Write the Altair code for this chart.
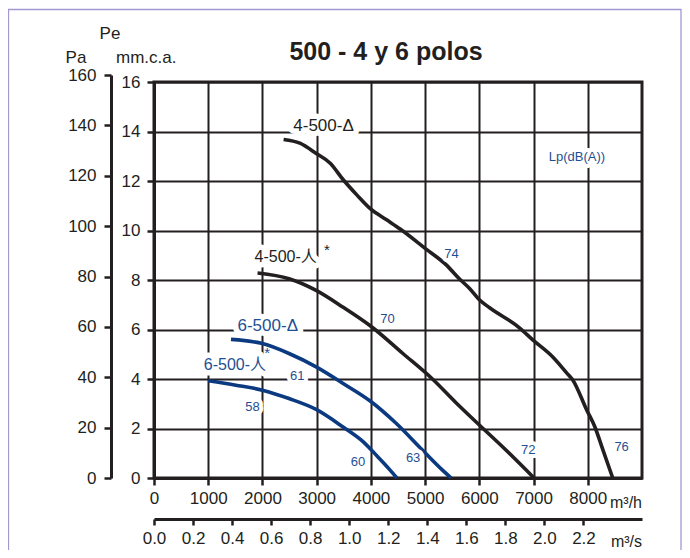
import altair as alt
import pandas as pd

# ---------------- data (flow m3/h, pressure mm.c.a.) ----------------
q_4d = [2390, 2690, 3000, 3250, 3490, 3740, 4000, 4290, 4540, 5000, 5390, 5630, 5820,
        6000, 6190, 6740, 6980, 7350, 7610, 7720, 7980, 8130, 8260, 8460]
p_4d = [13.68, 13.53, 13.10, 12.72, 12.05, 11.44, 10.86, 10.43, 10.06, 9.28, 8.61, 8.05, 7.66,
        7.20, 6.88, 6.07, 5.59, 4.90, 4.25, 3.97, 2.75, 2.07, 1.26, 0.0]
q_4y = [1910, 2490, 2990, 3480, 4000, 4590, 5140, 5570, 6000, 6490, 7010]
p_4y = [8.28, 8.05, 7.58, 6.91, 6.13, 5.03, 3.99, 3.04, 2.14, 1.13, 0.0]
q_6d = [1420, 2000, 2490, 2990, 3480, 4000, 4460, 4950, 5320, 5480]
p_6d = [5.60, 5.43, 5.03, 4.49, 3.83, 3.09, 2.22, 1.13, 0.32, 0.0]
q_6y = [1000, 1510, 2000, 2490, 2990, 3480, 3860, 4130, 4350, 4480]
p_6y = [3.93, 3.75, 3.55, 3.21, 2.77, 2.07, 1.46, 0.85, 0.33, 0.0]

series_names = ["4-500-D", "4-500-Y", "6-500-D", "6-500-Y"]
series_q = [q_4d, q_4y, q_6d, q_6y]
series_p = [p_4d, p_4y, p_6d, p_6y]

# delta labels (centred) and star labels (right end of text)
delta_labels = ["4-500-Δ", "6-500-Δ"]
delta_q = [3127, 2098]
delta_p = [14.21, 6.14]
delta_kind = ["k", "b"]
star_labels = ["4-500-人", "6-500-人"]
star_label_q = [3002, 2066]
star_label_p = [8.92, 4.57]
star_kind = ["k", "b"]
star_q = [3190, 2085]
star_p = [9.22, 5.05]

noise_labels = ["74", "70", "61", "58", "60", "63", "72", "76", "Lp(dB(A))"]
noise_q = [5487, 4306, 2642, 1815, 3764, 4779, 6900, 8624, 7799]
noise_p = [9.04, 6.41, 4.14, 2.88, 0.66, 0.80, 1.13, 1.24, 12.98]

x_ticks_h = [0, 1000, 2000, 3000, 4000, 5000, 6000, 7000, 8000]
x_ticks_s = [0.0, 0.2, 0.4, 0.6, 0.8, 1.0, 1.2, 1.4, 1.6, 1.8, 2.0, 2.2]
y_ticks_mm = [0, 2, 4, 6, 8, 10, 12, 14, 16]
y_ticks_pa = [0, 20, 40, 60, 80, 100, 120, 140, 160]

# ---------------- style ----------------
INK = "#231f20"
BLUE_TXT = "#1f4f93"
BLUE_LINE = "#0b3a80"
FONT = "Liberation Sans Narrow, Arial Narrow, Liberation Sans, Arial, Noto Sans CJK SC, sans-serif"
W, H = 488, 396
LBL = 17


def col(k):
    return INK if k == "k" else BLUE_TXT


rows = []
for name, qs, ps in zip(series_names, series_q, series_p):
    for q, p in zip(qs, ps):
        rows.append({"serie": name, "q": q, "p": p})
df = pd.DataFrame(rows)

delta_df = pd.DataFrame({"t": delta_labels, "q": delta_q, "p": delta_p,
                         "c": [col(k) for k in delta_kind]})
starlab_df = pd.DataFrame({"t": star_labels, "q": star_label_q, "p": star_label_p,
                           "c": [col(k) for k in star_kind]})
star_df = pd.DataFrame({"t": ["*"] * len(star_q), "q": star_q, "p": star_p,
                        "c": [col(k) for k in star_kind]})
num_df = pd.DataFrame({"t": noise_labels, "q": noise_q, "p": noise_p,
                       "c": [BLUE_TXT] * len(noise_labels)})

common_axis = dict(domainColor=INK, domainWidth=3, tickColor=INK, tickWidth=2.5,
                   labelFont=FONT, labelFontSize=LBL, labelColor=INK, title=None)

x_main = alt.X("q:Q", scale=alt.Scale(domain=[0, 9000], nice=False),
               axis=alt.Axis(values=x_ticks_h, format="d", grid=True, gridColor=INK,
                             gridWidth=2, gridOpacity=1, tickSize=7, labelPadding=5,
                             labelFlush=False, **common_axis))
y_main = alt.Y("p:Q", scale=alt.Scale(domain=[0, 16], nice=False),
               axis=alt.Axis(values=y_ticks_mm, format="d", grid=True, gridColor=INK,
                             gridWidth=2, gridOpacity=1, tickSize=7, labelPadding=7,
                             labelFlush=False, **common_axis))

curves = alt.Chart(df).mark_line(strokeWidth=3.6, interpolate="monotone").encode(
    x=x_main, y=y_main,
    color=alt.Color("serie:N", scale=alt.Scale(domain=series_names,
                                               range=[INK, INK, BLUE_LINE, BLUE_LINE]),
                    legend=None),
)


def halo_and_text(data, size, align="center", halo_w=11):
    base = alt.Chart(data)
    halo = base.mark_text(font=FONT, fontSize=size, stroke="white", strokeWidth=halo_w,
                          strokeJoin="round", fill="white", align=align).encode(
        x=x_main, y=y_main, text="t:N")
    txt = base.mark_text(font=FONT, fontSize=size, align=align).encode(
        x=x_main, y=y_main, text="t:N", color=alt.Color("c:N", scale=None))
    return halo, txt


d_halo, d_txt = halo_and_text(delta_df, LBL, "center")
s_halo, s_txt = halo_and_text(starlab_df, LBL - 1, "right")
n_halo, n_txt = halo_and_text(num_df, 13, "center", halo_w=8)
star_txt = alt.Chart(star_df).mark_text(font=FONT, fontSize=15).encode(
    x=x_main, y=y_main, text="t:N", color=alt.Color("c:N", scale=None))

one = alt.Data(values=[{}])
frame = alt.Chart(one).mark_rect(fillOpacity=0, stroke="#a597d2", strokeWidth=1.3).encode(
    x=alt.value(-145.5), x2=alt.value(527), y=alt.value(-72.5), y2=alt.value(H + 120))


def ptext(txt, x, y, size=17, align="center", weight="normal"):
    return alt.Chart(one).mark_text(text=txt, font=FONT, fontSize=size, align=align,
                                    fontWeight=weight, baseline="alphabetic",
                                    color=INK).encode(x=alt.value(x), y=alt.value(y))


title = ptext("500 - 4 y 6 polos", 232, -22, size=25, weight="bold")
t_pe = ptext("Pe", -44, -43)
t_pa = ptext("Pa", -78, -19)
t_mm = ptext("mm.c.a.", -38, -19, align="left")
t_mh = ptext("m³/h", W, 425.5, size=16, align="right")
t_ms = ptext("m³/s", W, 465, size=16, align="right")

main = alt.layer(frame, curves, d_halo, s_halo, n_halo, d_txt, s_txt, n_txt, star_txt,
                 title, t_pe, t_pa, t_mm, t_mh, t_ms)

pa_layer = alt.Chart(pd.DataFrame({"pa": [0, 160]})).mark_point(opacity=0).encode(
    y=alt.Y("pa:Q", scale=alt.Scale(domain=[0, 160], range=[H, -7], nice=False),
            axis=alt.Axis(orient="left", offset=43, values=y_ticks_pa, format="d",
                          grid=False, tickSize=7, labelPadding=8, labelFlush=False,
                          **common_axis)))

ms_layer = alt.Chart(pd.DataFrame({"ms": [0, 2.5]})).mark_point(opacity=0).encode(
    x=alt.X("ms:Q", scale=alt.Scale(domain=[0, 2.5], nice=False),
            axis=alt.Axis(orient="bottom", offset=41, values=x_ticks_s, format=".1f",
                          grid=False, tickSize=6, labelPadding=5, labelFlush=False,
                          **common_axis)))

chart = alt.layer(main, pa_layer, ms_layer).resolve_scale(
    x="independent", y="independent"
).properties(
    width=W, height=H,
    autosize=alt.AutoSizeParams(type="none"),
    padding={"left": 146, "top": 74, "right": 40, "bottom": 72},
    background="white",
).configure_view(stroke=INK, strokeWidth=3)

chart.save("out.html", embed_options={"renderer": "svg", "actions": False})
